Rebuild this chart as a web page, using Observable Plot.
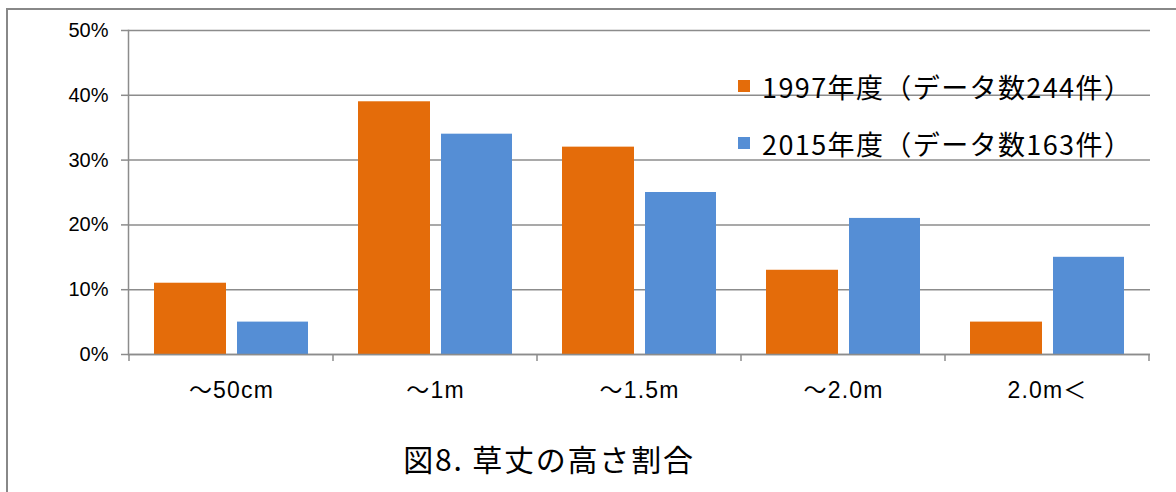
<!DOCTYPE html>
<html><head><meta charset="utf-8">
<script src="https://cdn.jsdelivr.net/npm/d3@7"></script>
<script src="https://cdn.jsdelivr.net/npm/@observablehq/plot@0.6"></script>
<style>
html,body{margin:0;padding:0;background:#fff;overflow:hidden;}
#wrap{position:relative;width:1176px;height:492px;overflow:hidden;background:#fff;}
#frame{position:absolute;left:6px;top:8px;width:1200px;height:520px;border-left:2px solid #888;border-top:2px solid #888;}
#chart{position:absolute;left:0;top:0;}
.bars g[aria-label="x-axis tick label"] text{letter-spacing:1.2px;}
.legend{position:absolute;left:738px;top:0;font-family:"Noto Sans CJK JP",sans-serif;font-size:27px;letter-spacing:1.4px;color:#000;}
.legend .row{position:absolute;left:0;display:flex;align-items:center;white-space:nowrap;height:40px;}
.legend .sw{width:12px;height:12px;margin-right:12px;flex:none;}
.title{position:absolute;left:0;width:1098px;text-align:center;top:438px;font-family:"Noto Sans CJK JP",sans-serif;font-size:30px;letter-spacing:1.8px;line-height:40px;color:#000;white-space:nowrap;}
</style>
</head><body>
<div id="wrap"><div id="frame"></div><div id="chart"></div><div class="legend" id="legend"></div><div class="title" id="title"></div></div>
<script>
const categories = ["～50cm", "～1m", "～1.5m", "～2.0m", "2.0m＜"];
const values1997 = [11, 39, 32, 13, 5];
const values2015 = [5, 34, 25, 21, 15];
const seriesNames = ["1997年度（データ数244件）", "2015年度（データ数163件）"];
const seriesColors = ["#E46C0A", "#558ED5"];
const yTicks = [0, 10, 20, 30, 40, 50];
const titleText = "図8. 草丈の高さ割合";

const rows = categories.flatMap((c, i) => [
  {category: c, series: seriesNames[0], value: values1997[i]},
  {category: c, series: seriesNames[1], value: values2015[i]}
]);

const gray = "#8c8c8c";

const boundaryTicks = (index, scales, values, dimensions) => {
  const x = scales.x, y = scales.y;
  const bw = x.bandwidth();
  const edges = categories.map(c => x(c)).concat([x(categories[categories.length - 1]) + bw]);
  const y0 = y(0);
  const g = d3.create("svg:g").attr("stroke", gray).attr("stroke-width", 1.5);
  g.selectAll("line").data(edges).join("line")
    .attr("x1", d => d).attr("x2", d => d)
    .attr("y1", y0).attr("y2", y0 + 7);
  return g.node();
};

const chart = Plot.plot({
  className: "bars",
  width: 1176, height: 492,
  marginLeft: 128, marginRight: 26, marginTop: 30, marginBottom: 138,
  style: {fontFamily: "'Liberation Sans', 'Noto Sans CJK JP', sans-serif", fontSize: "20px", color: "#000", background: "transparent"},
  x: {domain: categories, padding: 0, axis: null},
  y: {domain: [0, 50], axis: null, label: null},
  color: {domain: seriesNames, range: seriesColors},
  marks: [
    Plot.gridY(yTicks, {stroke: gray, strokeOpacity: 1, strokeWidth: 1.5}),
    Plot.axisY(yTicks, {tickSize: 7, tickPadding: 13, tickFormat: d => d + "%", stroke: gray, strokeWidth: 1.5, fill: "#000", fontSize: 20, label: null}),
    Plot.barY(rows.filter(d => d.series === seriesNames[0]), {x: "category", y: "value", fill: "series", insetLeft: 25, insetRight: 107}),
    Plot.barY(rows.filter(d => d.series === seriesNames[1]), {x: "category", y: "value", fill: "series", insetLeft: 108, insetRight: 25}),
    Plot.ruleY([0], {stroke: gray, strokeWidth: 1.5}),
    Plot.frame({anchor: "left", stroke: gray, strokeWidth: 1.5}),
    boundaryTicks,
    Plot.axisX({tickSize: 0, tickPadding: 27, fontSize: 23, fill: "#000", label: null})
  ]
});
document.getElementById("chart").appendChild(chart);

const legend = document.getElementById("legend");
const rowCenters = [86, 143];
seriesNames.forEach((name, i) => {
  const r = document.createElement("div");
  r.className = "row";
  r.style.top = (rowCenters[i] - 20) + "px";
  const sw = document.createElement("span");
  sw.className = "sw";
  sw.style.background = seriesColors[i];
  const t = document.createElement("span");
  t.textContent = name;
  r.appendChild(sw); r.appendChild(t);
  legend.appendChild(r);
});
document.getElementById("title").textContent = titleText;
</script>
</body></html>
